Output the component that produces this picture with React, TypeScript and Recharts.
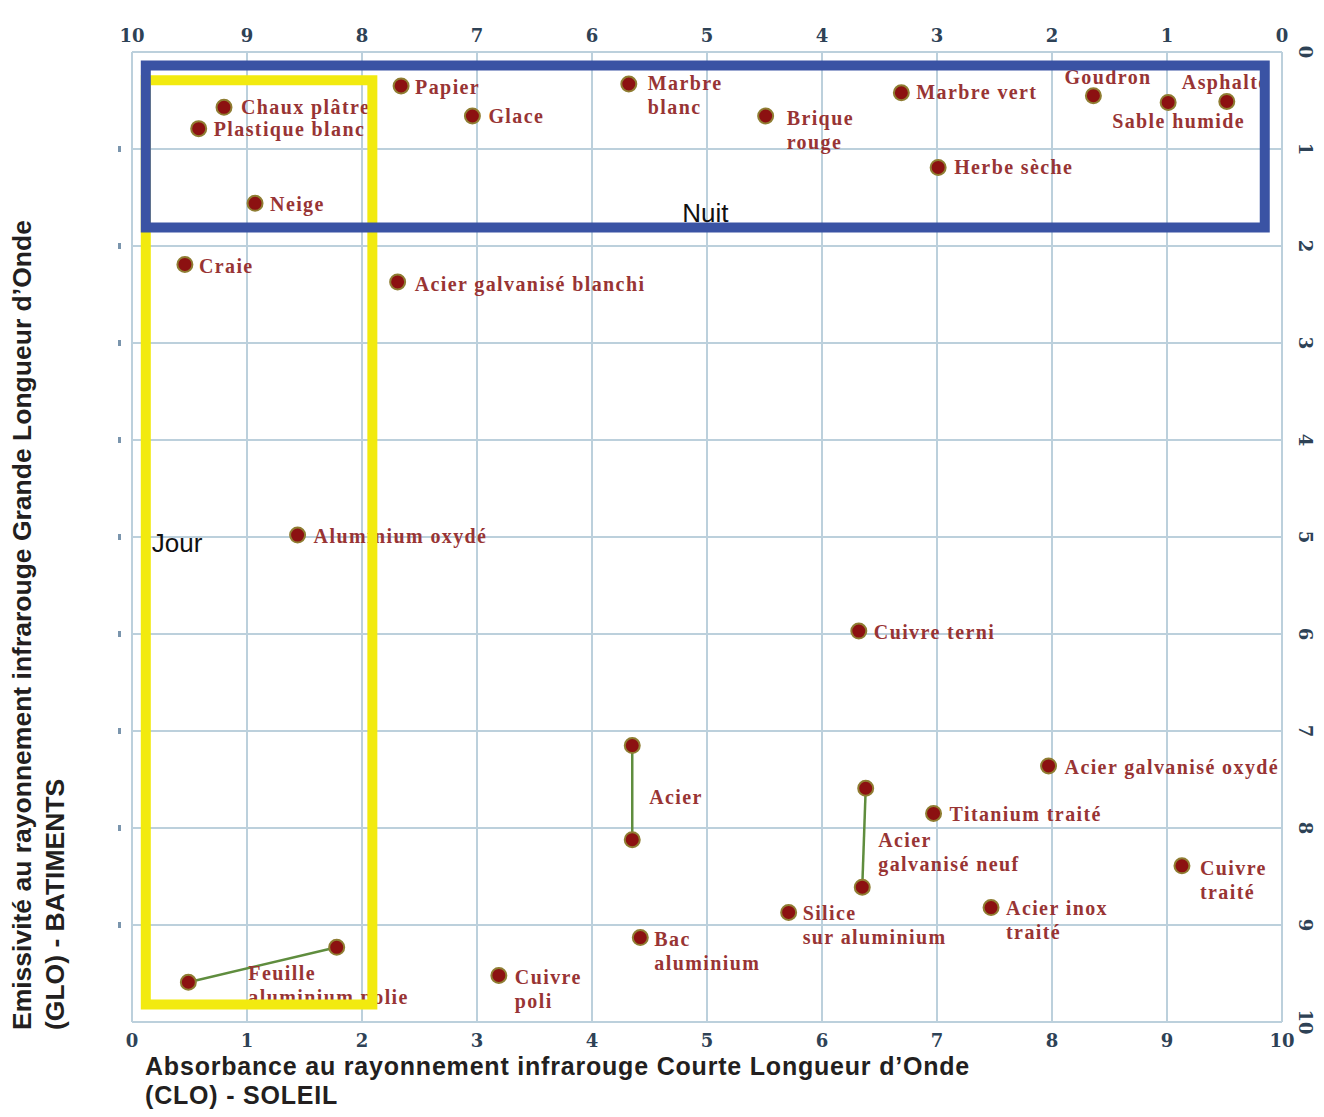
import { ScatterChart, Scatter, XAxis, YAxis, CartesianGrid, ReferenceArea } from "recharts";

// single materials
const names = [
  "Chaux plâtre", "Plastique blanc", "Neige", "Papier", "Glace", "Marbre blanc",
  "Brique rouge", "Marbre vert", "Herbe sèche", "Goudron", "Sable humide", "Asphalte",
  "Craie", "Acier galvanisé blanchi", "Aluminium oxydé", "Cuivre terni",
  "Acier galvanisé oxydé", "Titanium traité", "Cuivre traité", "Silice sur aluminium",
  "Acier inox traité", "Bac aluminium", "Cuivre poli",
];
const clo = [0.8, 0.58, 1.07, 2.34, 2.96, 4.32, 5.51, 6.69, 7.01, 8.36, 9.01, 9.52, 0.46, 2.31, 1.44, 6.32, 7.97, 6.97, 9.13, 5.71, 7.47, 4.42, 3.19];
const glo = [0.57, 0.79, 1.56, 0.35, 0.66, 0.33, 0.66, 0.42, 1.19, 0.45, 0.52, 0.51, 2.19, 2.37, 4.98, 5.97, 7.36, 7.85, 8.39, 8.87, 8.82, 9.13, 9.52];

// materials given as a range (two points joined)
const pairNames = ["Acier", "Acier galvanisé neuf", "Feuille aluminium polie"];
const pairClo = [[4.35, 4.35], [6.38, 6.35], [0.49, 1.78]];
const pairGlo = [[7.15, 8.12], [7.59, 8.61], [9.59, 9.23]];

const ticks = [0, 1, 2, 3, 4, 5, 6, 7, 8, 9, 10];
const leftTicks = [1, 2, 3, 4, 5, 6, 7, 8, 9];

// zones
const nuitX = [0.12, 9.85];
const nuitY = [0.14, 1.81];
const jourX = [0.12, 2.09];
const jourY = [0.29, 9.82];

// label placement (px offsets from the point)
const labelPos: Record<string, { dx: number; dy: number; wrap?: number; at?: number }> = {
  "Chaux plâtre": { dx: 17, dy: 0 },
  "Plastique blanc": { dx: 15, dy: 0 },
  "Neige": { dx: 15, dy: 1 },
  "Papier": { dx: 14, dy: 1 },
  "Glace": { dx: 16, dy: 0 },
  "Marbre blanc": { dx: 19, dy: -1, wrap: 1 },
  "Brique rouge": { dx: 21, dy: 2, wrap: 1 },
  "Marbre vert": { dx: 15, dy: -1 },
  "Herbe sèche": { dx: 16, dy: 0 },
  "Goudron": { dx: -29, dy: -19 },
  "Sable humide": { dx: -56, dy: 19 },
  "Asphalte": { dx: -45, dy: -19 },
  "Craie": { dx: 14, dy: 2 },
  "Acier galvanisé blanchi": { dx: 17, dy: 2 },
  "Aluminium oxydé": { dx: 16, dy: 1 },
  "Cuivre terni": { dx: 15, dy: 1 },
  "Acier galvanisé oxydé": { dx: 16, dy: 1 },
  "Titanium traité": { dx: 16, dy: 1 },
  "Cuivre traité": { dx: 18, dy: 2, wrap: 1 },
  "Silice sur aluminium": { dx: 14, dy: 1, wrap: 1 },
  "Acier inox traité": { dx: 15, dy: 0, wrap: 2 },
  "Bac aluminium": { dx: 14, dy: 1, wrap: 1 },
  "Cuivre poli": { dx: 16, dy: 2, wrap: 1 },
  "Acier": { dx: 17, dy: -43, at: 1 },
  "Acier galvanisé neuf": { dx: 16, dy: -47, wrap: 1, at: 1 },
  "Feuille aluminium polie": { dx: 60, dy: -9, wrap: 1, at: 0 },
};

const points = names.map((name, i) => ({ name, x: clo[i], y: glo[i], idx: 0 }));
const pairs = pairNames.map((name, i) =>
  pairClo[i].map((x, j) => ({ name, x, y: pairGlo[i][j], idx: j }))
);

const GRID = "#bcd0dc";
const TICK = "#2e4256";
const LABEL = "#983434";

const Mark = (props: any) => {
  const { cx, cy, payload } = props;
  const pos = labelPos[payload.name];
  const show = pos && (pos.at === undefined || pos.at === payload.idx);
  let lines = [payload.name];
  if (pos && pos.wrap) {
    const w = payload.name.split(" ");
    lines = [w.slice(0, pos.wrap).join(" "), w.slice(pos.wrap).join(" ")];
  }
  return (
    <g>
      <circle cx={cx} cy={cy} r={7.5} fill="#8c1111" stroke="#8f7d32" strokeWidth={2} />
      {show && (
        <text
          x={cx + pos.dx}
          y={cy + pos.dy}
          fill={LABEL}
          fontFamily="'Liberation Serif', 'Times New Roman', serif"
          fontWeight="bold"
          fontSize={20}
          letterSpacing={1.4}
          dominantBaseline="central"
        >
          {lines.map((l, k) => (
            <tspan key={k} x={cx + pos.dx} dy={k === 0 ? 0 : 24}>
              {l}
            </tspan>
          ))}
        </text>
      )}
    </g>
  );
};

const Hidden = () => <g />;

const tickFont = { fontFamily: "'DejaVu Serif', serif", fontWeight: "bold" as const, fontSize: 18, fill: TICK };

const BottomTick = ({ x, y, payload }: any) => (
  <text x={x} y={y + 18} textAnchor="middle" dominantBaseline="central" {...tickFont}>
    {payload.value}
  </text>
);
const TopTick = ({ x, y, payload }: any) => (
  <text x={x} y={y - 17} textAnchor="middle" dominantBaseline="central" {...tickFont}>
    {payload.value}
  </text>
);
const RightTick = ({ x, y, payload }: any) => (
  <text
    x={x + 23}
    y={y}
    textAnchor="middle"
    dominantBaseline="central"
    transform={`rotate(90 ${x + 23} ${y})`}
    {...tickFont}
  >
    {payload.value}
  </text>
);
const LeftTick = ({ x, y }: any) => <rect x={x - 14} y={y - 3} width={3} height={6} fill="#7a95ad" />;

const titleFont = {
  fontFamily: "'Liberation Sans', Arial, sans-serif",
  fontWeight: "bold" as const,
  fontSize: 26.5,
  fill: "#231f20",
};

export default function App() {
  return (
    <div style={{ width: 1310, height: 1109, marginBottom: -8, background: "#fff" }}>
      <ScatterChart width={1310} height={1109} margin={{ top: 14, right: 6, bottom: 65, left: 104 }}>
        <CartesianGrid xAxisId="b" yAxisId="r" stroke={GRID} strokeWidth={2} />
        <XAxis xAxisId="b" type="number" dataKey="x" domain={[0, 10]} ticks={ticks} height={30}
          tickSize={0} tickMargin={0} tickLine={false} axisLine={{ stroke: GRID, strokeWidth: 2 }} tick={<BottomTick />} />
        <XAxis xAxisId="t" orientation="top" type="number" dataKey="x" domain={[0, 10]} ticks={ticks} reversed height={30}
          tickSize={0} tickMargin={0} tickLine={false} axisLine={{ stroke: GRID, strokeWidth: 2 }} tick={<TopTick />} />
        <YAxis yAxisId="r" orientation="right" type="number" dataKey="y" domain={[0, 10]} ticks={ticks} reversed width={30}
          tickSize={0} tickMargin={0} tickLine={false} axisLine={{ stroke: GRID, strokeWidth: 2 }} tick={<RightTick />} />
        <YAxis yAxisId="l" orientation="left" type="number" dataKey="y" domain={[0, 10]} ticks={leftTicks} reversed width={20}
          tickSize={0} tickMargin={0} tickLine={false} axisLine={{ stroke: GRID, strokeWidth: 2 }} tick={<LeftTick />} />
        {/* invisible copy so the top and left axes get their scales */}
        <Scatter xAxisId="t" yAxisId="l" data={points} shape={<Hidden />} isAnimationActive={false} />
        <Scatter xAxisId="b" yAxisId="r" data={points} shape={<Mark />} isAnimationActive={false} />
        {pairs.map((p, i) => (
          <Scatter key={i} xAxisId="b" yAxisId="r" data={p} shape={<Mark />} isAnimationActive={false}
            line={{ stroke: "#5f8d3e", strokeWidth: 2.5 }} lineType="joint" />
        ))}
        <ReferenceArea xAxisId="b" yAxisId="r" x1={jourX[0]} x2={jourX[1]} y1={jourY[0]} y2={jourY[1]}
          fill="none" fillOpacity={0} stroke="#f2ea0f" strokeWidth={10} ifOverflow="visible" zIndex={700}
          label={{ value: "Jour", position: "insideLeft", offset: 6, fill: "#111", fontSize: 26, fontFamily: "'Liberation Sans', Arial, sans-serif" }} />
        <ReferenceArea xAxisId="b" yAxisId="r" x1={nuitX[0]} x2={nuitX[1]} y1={nuitY[0]} y2={nuitY[1]}
          fill="none" fillOpacity={0} stroke="#3a53a4" strokeWidth={10} ifOverflow="visible" zIndex={800}
          label={{ value: "Nuit", position: "insideBottom", offset: 6, fill: "#111", fontSize: 26, fontFamily: "'Liberation Sans', Arial, sans-serif" }} />
        <text x={137} y={1067} {...titleFont} fontSize={25} letterSpacing={0.8}>
          Absorbance au rayonnement infrarouge Courte Longueur d’Onde
        </text>
        <text x={137} y={1096} {...titleFont} fontSize={25} letterSpacing={0.8}>(CLO) - SOLEIL</text>
        <text transform="rotate(-90) translate(-1022 0)" {...titleFont}>
          <tspan x={0} y={23}>Emissivité au rayonnement infrarouge Grande Longueur d’Onde</tspan>
          <tspan x={0} y={56}>(GLO) - BATIMENTS</tspan>
        </text>
      </ScatterChart>
    </div>
  );
}
